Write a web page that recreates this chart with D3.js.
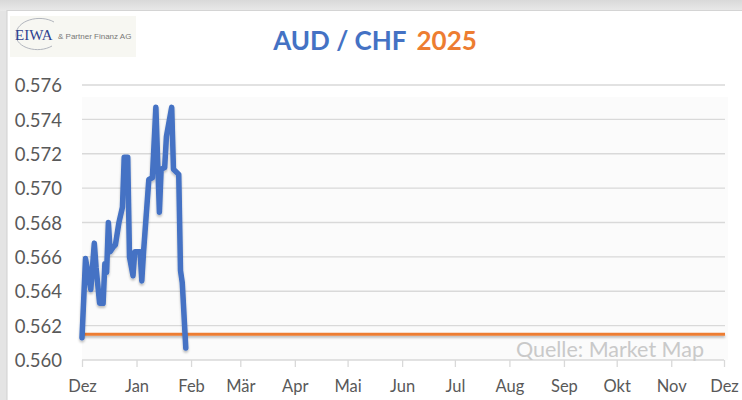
<!DOCTYPE html>
<html>
<head>
<meta charset="utf-8">
<script src="https://cdn.jsdelivr.net/npm/d3@7"></script>
<style>
  html, body { margin: 0; padding: 0; background: #fff; }
  svg { display: block; }
</style>
</head>
<body>
<svg id="chart" width="742" height="400"></svg>
<script>
// ---- data ----
const dates = ["2024-12-01","2024-12-03","2024-12-05","2024-12-06","2024-12-08","2024-12-09","2024-12-11","2024-12-13",
  "2024-12-14","2024-12-15","2024-12-16","2024-12-17","2024-12-19","2024-12-20","2024-12-22","2024-12-24","2024-12-25",
  "2024-12-27","2024-12-28","2024-12-30","2024-12-31","2025-01-03","2025-01-04","2025-01-05","2025-01-08","2025-01-10",
  "2025-01-12","2025-01-14","2025-01-15","2025-01-17","2025-01-18","2025-01-21","2025-01-22","2025-01-25","2025-01-26",
  "2025-01-27","2025-01-29"];
const audchf = [0.5613,0.5659,0.5647,0.5641,0.5668,0.5654,0.5633,0.5633,
  0.5656,0.5651,0.5680,0.5663,0.5666,0.5667,0.5680,0.5689,0.5718,
  0.5718,0.5660,0.5649,0.5663,0.5663,0.5646,0.5663,0.5705,0.5706,
  0.5747,0.5686,0.5711,0.5712,0.5730,0.5747,0.5711,0.5708,0.5652,
  0.5645,0.5607];
const referenceLevel = 0.5615;
const monthLabels = ["Dez","Jan","Feb","Mär","Apr","Mai","Jun","Jul","Aug","Sep","Okt","Nov","Dez"];
const yTicks = [0.560,0.562,0.564,0.566,0.568,0.570,0.572,0.574,0.576];
const titleMain = "AUD / CHF";
const titleYear = "2025";
const sourceText = "Quelle: Market Map";

// ---- layout ----
const svg = d3.select("#chart");
const parse = d3.timeParse("%Y-%m-%d");
const data = dates.map((d, i) => ({ date: parse(d), value: audchf[i] }));
const x0 = parse("2024-12-01"), x1 = parse("2025-12-01");
const x = d3.scaleTime().domain([x0, x1]).range([82, 724]);
const y = d3.scaleLinear().domain([0.560, 0.576]).range([360, 85]);

// background frame
svg.append("rect").attr("x", 0).attr("y", 0).attr("width", 742).attr("height", 400).attr("fill", "#e4e4e4");
const defs = svg.append("defs");
const g1 = defs.append("linearGradient").attr("id", "topband").attr("x1", 0).attr("x2", 0).attr("y1", 0).attr("y2", 1);
g1.append("stop").attr("offset", "0%").attr("stop-color", "#d9d9d9");
g1.append("stop").attr("offset", "100%").attr("stop-color", "#e9e9e9");
svg.append("rect").attr("x", 0).attr("y", 0).attr("width", 742).attr("height", 11).attr("fill", "url(#topband)");
svg.append("rect").attr("x", 7).attr("y", 10).attr("width", 735).attr("height", 390).attr("fill", "#ffffff");
svg.append("line").attr("x1", 7).attr("x2", 7).attr("y1", 10).attr("y2", 400).attr("stroke", "#d0d0d0");
svg.append("line").attr("x1", 7).attr("x2", 742).attr("y1", 10.5).attr("y2", 10.5).attr("stroke", "#d4d4d4");

// shadow filter (user space so horizontal lines are not clipped)
const f = defs.append("filter").attr("id", "shadow").attr("filterUnits", "userSpaceOnUse")
  .attr("x", 0).attr("y", 0).attr("width", 742).attr("height", 400);
f.append("feDropShadow").attr("dx", 0).attr("dy", 2).attr("stdDeviation", 1.2).attr("flood-color", "#000").attr("flood-opacity", 0.25);

// plot area subtle fill
svg.append("rect").attr("x", x(x0)).attr("y", 97).attr("width", x(x1) - x(x0) + 4).attr("height", y(0.560) - 97)
  .attr("fill", "#fbfbfb");

// gridlines
svg.append("g").selectAll("line").data(yTicks.slice(1)).join("line")
  .attr("x1", x(x0)).attr("x2", x(x1) + 1)
  .attr("y1", d => y(d)).attr("y2", d => y(d))
  .attr("stroke", "#d9d9d9").attr("stroke-width", 1.3);

// y axis labels
const yAxis = d3.axisLeft(y).tickValues(yTicks).tickFormat(d3.format(".3f")).tickSize(0).tickPadding(0);
const yg = svg.append("g").attr("transform", "translate(62,0)").call(yAxis);
yg.select(".domain").remove();
yg.selectAll("text").attr("font-family", "Lato, 'Open Sans', sans-serif").attr("font-size", 18.5)
  .attr("fill", "#595959").attr("dy", "0.36em");

// x axis
const monthTicks = d3.timeMonth.range(x0, d3.timeDay.offset(x1, 1));
const xAxis = d3.axisBottom(x).tickValues(monthTicks).tickFormat((d, i) => monthLabels[i]).tickSize(7).tickPadding(13).tickSizeOuter(0);
const xg = svg.append("g").attr("transform", `translate(0,${y(0.560)})`).call(xAxis);
xg.select(".domain").attr("stroke", "#d9d9d9").attr("stroke-width", 1.3).attr("d", `M${x(x0)},0H${x(x1)}`);
xg.selectAll(".tick line").attr("stroke", "#d9d9d9").attr("stroke-width", 1.3);
xg.selectAll("text").attr("font-family", "Lato, 'Open Sans', sans-serif").attr("font-size", 16.5).attr("fill", "#595959");

// source
svg.append("text").attr("x", 704).attr("y", 357).attr("text-anchor", "end")
  .attr("font-family", "Lato, 'Open Sans', sans-serif").attr("font-size", 21.5).attr("fill", "#c9c9c9").text(sourceText);

// reference line
svg.append("line").attr("x1", x(x0)).attr("x2", x(x1) + 1)
  .attr("y1", y(referenceLevel)).attr("y2", y(referenceLevel))
  .attr("stroke", "#ED7D31").attr("stroke-width", 3).attr("filter", "url(#shadow)");

// series line
const line = d3.line().x(d => x(d.date)).y(d => y(d.value));
svg.append("path").datum(data).attr("d", line).attr("fill", "none")
  .attr("stroke", "#4472C4").attr("stroke-width", 5.5).attr("stroke-linejoin", "round").attr("stroke-linecap", "round")
  .attr("filter", "url(#shadow)");

// title
const title = svg.append("text").attr("x", 375).attr("y", 50).attr("text-anchor", "middle")
  .attr("font-family", "Lato, 'Open Sans', sans-serif").attr("font-weight", "bold").attr("font-size", 26);
title.append("tspan").attr("fill", "#4472C4").text(titleMain);
title.append("tspan").attr("fill", "#ED7D31").attr("dx", 10).text(titleYear);

// logo
const logo = svg.append("g");
logo.append("rect").attr("x", 10).attr("y", 16).attr("width", 126).attr("height", 41).attr("fill", "#f7f7f2");
logo.append("path").attr("d", "M54,22 C40,14 16,20 16,35 C16,48 38,54 52,46")
  .attr("fill", "none").attr("stroke", "#a0a4b0").attr("stroke-width", 0.8);
logo.append("text").attr("x", 15).attr("y", 40).attr("font-family", "'Liberation Serif', 'DejaVu Serif', serif")
  .attr("font-size", 15).attr("fill", "#2e3f8f").text("EIWA");
logo.append("text").attr("x", 58).attr("y", 39).attr("font-family", "'Liberation Sans', Arial, sans-serif")
  .attr("font-size", 8).attr("fill", "#777").text("& Partner Finanz AG");
</script>
</body>
</html>
